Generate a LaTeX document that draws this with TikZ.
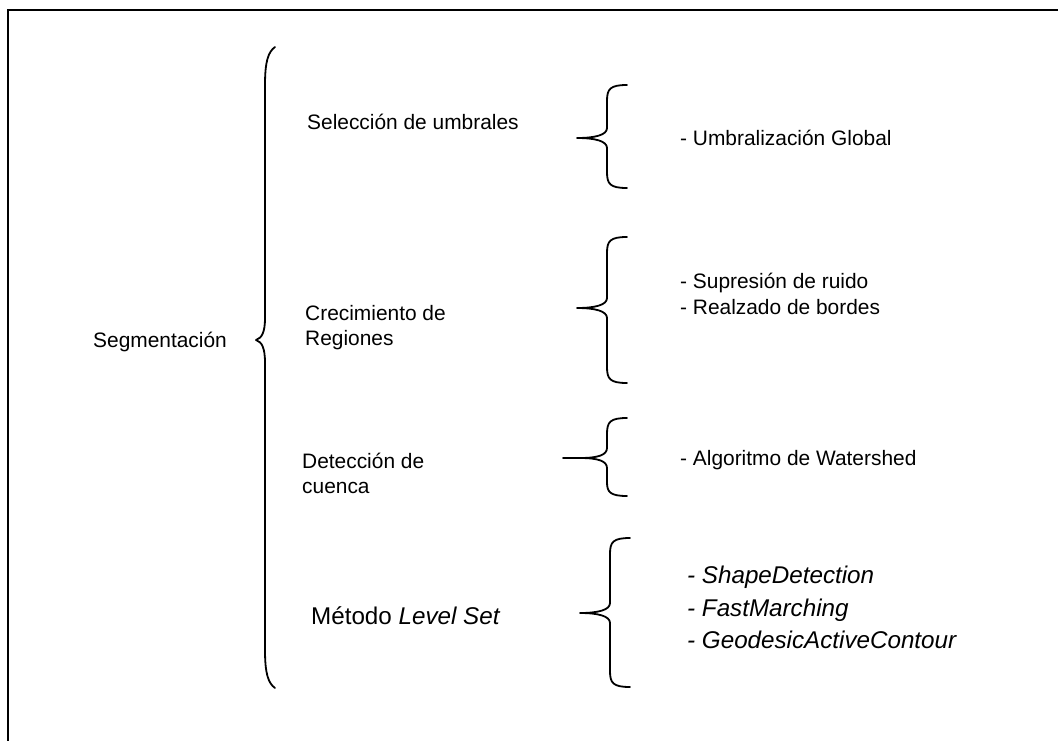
\documentclass[tikz,border=0pt]{standalone}
\usepackage{fontspec}
\setmainfont{Liberation Sans}
\tikzset{
  brc/.style={line width=1.8pt, line cap=round, line join=round},
  frm/.style={line width=2pt},
  lbl/.style={anchor=base west, inner sep=0pt, font=\fontsize{20.9}{25}\selectfont},
  big/.style={lbl, font=\fontsize{24.2}{29}\selectfont},
}
% #1 tip x, #2 vertical x, #3 top y, #4 mid y, #5 bottom y, #6 end x
\newcommand\mybrace[6]{%
  \draw[brc] ({#6},{#3}) .. controls ({#2+3},{#3}) and ({#2},{#3+4}) .. ({#2},{#3+16})
    -- ({#2},{#4-10}) .. controls ({#2},{#4-3}) and ({#2-12},{#4}) .. ({#1},{#4})
    .. controls ({#2-12},{#4}) and ({#2},{#4+3}) .. ({#2},{#4+10})
    -- ({#2},{#5-16}) .. controls ({#2},{#5-4}) and ({#2+3},{#5}) .. ({#6},{#5});}
\begin{document}
\begin{tikzpicture}[x=1pt,y=-1pt]
\useasboundingbox (0,0) rectangle (1058,740);
\draw[frm] (8,741) -- (8,9.5) -- (1059,9.5);
% big brace
\draw[brc] (275,47) .. controls (268,52) and (265,62) .. (265,85)
  -- (265,318) .. controls (265,332) and (262,338) .. (256,340)
  .. controls (262,342) and (265,348) .. (265,363)
  -- (265,650) .. controls (265,673) and (268,683) .. (275,688);
% small braces
\mybrace{577}{607}{85}{138}{188}{627}
\mybrace{577}{607}{237}{308}{383}{627}
\draw[brc] (563,458) -- (580,458) .. controls (598,458) and (607,455) .. (607,448)
  -- (607,434) .. controls (607,422) and (610,418) .. (627,418);
\draw[brc] (580,458) .. controls (598,458) and (607,461) .. (607,468)
  -- (607,482) .. controls (607,492) and (610,496) .. (627,496);
\mybrace{580}{610}{538}{613}{687}{630}
% labels
\node[lbl] (seg) at (93,347) {Segmentación};
\node[lbl] (sel) at (307,129) {Selección de umbrales};
\node[lbl] (cre1) at (305,320) {Crecimiento de};
\node[lbl] (cre2) at (305,345) {Regiones};
\node[lbl] (det1) at (302,468) {Detección de};
\node[lbl] (det2) at (302,493) {cuenca};
\node[big] (met) at (311,624) {Método \textit{Level Set}};
\node[lbl] (umb) at (680,145) {- Umbralización Global};
\node[lbl] (sup) at (680,288) {- Supresión de ruido};
\node[lbl] (rea) at (680,314) {- Realzado de bordes};
\node[lbl] (alg) at (680,465) {- Algoritmo de Watershed};
\node[big] (sha) at (687,583) {\textit{- ShapeDetection}};
\node[big] (fas) at (687,616) {\textit{- FastMarching}};
\node[big] (geo) at (687,648) {\textit{- GeodesicActiveContour}};
\end{tikzpicture}
\end{document}
